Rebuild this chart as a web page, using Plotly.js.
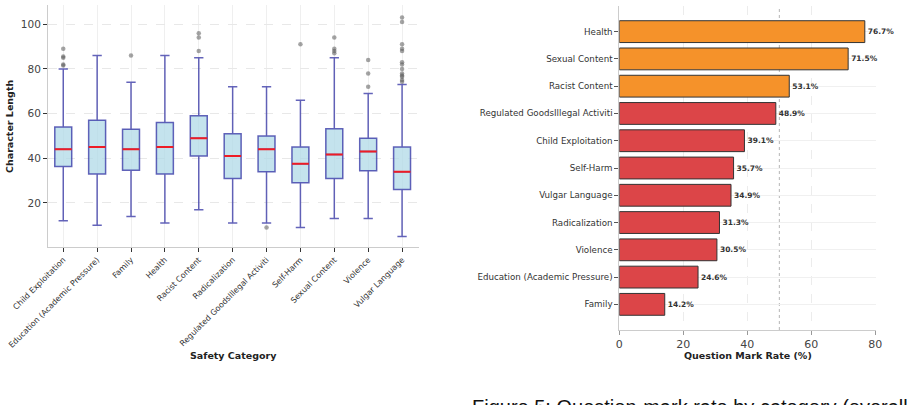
<!DOCTYPE html>
<html>
<head>
<meta charset="utf-8">
<script src="https://cdn.plot.ly/plotly-3.0.1.min.js"></script>
<style>html,body{margin:0;padding:0;background:#fff;}#chart{width:912px;height:405px;}</style>
</head>
<body>
<div id="chart"></div>
<script>
// ---- Left panel: character length by safety category (box plot) ----
const boxCategories = ["Child Exploitation", "Education (Academic Pressure)", "Family", "Health", "Racist Content", "Radicalization", "Regulated GoodsIllegal Activiti", "Self-Harm", "Sexual Content", "Violence", "Vulgar Language"];
const boxLower  = [12, 10, 14, 11, 17, 11, 11, 9, 13, 13, 5];
const boxQ1     = [36.3, 33, 34.7, 33, 41, 31, 34, 29, 31, 34.4, 26];
const boxMedian = [44, 45, 44, 45, 49, 41, 44, 37.6, 41.7, 43, 34];
const boxQ3     = [54, 57, 53, 56, 59, 51, 50, 45, 53.2, 49, 45];
const boxUpper  = [80, 86, 74, 86, 85, 72, 72, 66, 85, 69, 73];
const outlierCategories = [
  "Child Exploitation","Child Exploitation","Child Exploitation","Child Exploitation","Child Exploitation",
  "Family",
  "Racist Content","Racist Content","Racist Content",
  "Regulated GoodsIllegal Activiti",
  "Self-Harm",
  "Sexual Content","Sexual Content","Sexual Content","Sexual Content",
  "Violence","Violence","Violence",
  "Vulgar Language","Vulgar Language","Vulgar Language","Vulgar Language","Vulgar Language","Vulgar Language","Vulgar Language","Vulgar Language","Vulgar Language","Vulgar Language","Vulgar Language","Vulgar Language","Vulgar Language"
];
const outlierValues = [
  89, 85.5, 85, 82, 81.5,
  86,
  96, 94, 88,
  9,
  91,
  94, 89, 88, 87,
  84, 78, 72,
  103, 101, 91, 89, 88, 83, 82, 80, 78, 77, 76.5, 75, 74.2
];
const boxYTicks = [20, 40, 60, 80, 100];

// ---- Right panel: question mark rate by category (bar chart) ----
const barCategories = ["Health", "Sexual Content", "Racist Content", "Regulated GoodsIllegal Activiti", "Child Exploitation", "Self-Harm", "Vulgar Language", "Radicalization", "Violence", "Education (Academic Pressure)", "Family"];
const barRates = [76.7, 71.5, 53.1, 48.9, 39.1, 35.7, 34.9, 31.3, 30.5, 24.6, 14.2];
const rateThreshold = 50;
const barXTicks = [0, 20, 40, 60, 80];

const W = 912, H = 405;
const px = v => v / W;
const py = v => 1 - v / H;
const FONT = "DejaVu Sans";

const traces = [
  {
    type: "box", x: boxCategories, q1: boxQ1, median: boxMedian, q3: boxQ3,
    lowerfence: boxLower, upperfence: boxUpper,
    xaxis: "x", yaxis: "y", width: 0.5, whiskerwidth: 0.55, boxpoints: false,
    fillcolor: "rgba(173,216,230,0.72)",
    line: {color: "rgba(40,40,160,0.72)", width: 1.5},
    hoverinfo: "skip", showlegend: false
  },
  {
    type: "box", x: boxCategories, q1: boxMedian, median: boxMedian, q3: boxMedian,
    lowerfence: boxMedian, upperfence: boxMedian,
    xaxis: "x", yaxis: "y", width: 0.5, whiskerwidth: 0, boxpoints: false,
    fillcolor: "rgba(0,0,0,0)",
    line: {color: "#ee1c25", width: 2},
    hoverinfo: "skip", showlegend: false
  },
  {
    type: "scatter", mode: "markers", x: outlierCategories, y: outlierValues,
    xaxis: "x", yaxis: "y",
    marker: {color: "rgba(90,90,90,0.55)", size: 4.5},
    hoverinfo: "skip", showlegend: false
  },
  {
    type: "bar", orientation: "h", y: barCategories, x: barRates,
    xaxis: "x2", yaxis: "y2",
    marker: {
      color: barRates.map(v => v > rateThreshold ? "#f5922a" : "#dc4548"),
      line: {color: "#333333", width: 1}
    },
    text: barRates.map(v => v.toFixed(1) + "%"),
    textposition: "outside", cliponaxis: false, constraintext: "none",
    textfont: {family: FONT, size: 7.5, color: "#333333", weight: "bold"},
    hoverinfo: "skip", showlegend: false
  }
];

const layout = {
  width: W, height: H,
  margin: {l: 0, r: 0, t: 0, b: 0},
  paper_bgcolor: "#ffffff", plot_bgcolor: "#ffffff",
  font: {family: FONT, color: "#333333"},
  boxmode: "overlay", bargap: 0.2,
  showlegend: false,
  xaxis: {
    domain: [px(48), px(419)], anchor: "y", type: "category",
    categoryorder: "array", categoryarray: boxCategories,
    range: [-0.45, 10.5], automargin: false,
    tickangle: -45, tickfont: {size: 8, color: "#333333"},
    ticks: "outside", ticklen: 4, tickcolor: "#333333", tickwidth: 1,
    showgrid: true, gridcolor: "#efefef", gridwidth: 1,
    showline: true, linecolor: "#cccccc", linewidth: 1, zeroline: false
  },
  yaxis: {
    domain: [py(247), py(5)], anchor: "x",
    range: [0.3, 108.6], automargin: false,
    tickvals: boxYTicks, tickfont: {size: 10.5, color: "#444444"},
    ticks: "outside", ticklen: 4, tickcolor: "#333333",
    showgrid: true, gridcolor: "#e8e8e8", griddash: "dash", gridwidth: 1,
    showline: true, linecolor: "#cccccc", linewidth: 1, zeroline: false
  },
  xaxis2: {
    domain: [px(619.3), px(876)], anchor: "y2",
    range: [0, 80.2], automargin: false,
    tickvals: barXTicks, tickfont: {size: 11, color: "#444444"},
    ticks: "outside", ticklen: 4, tickcolor: "#999999",
    showgrid: true, gridcolor: "#ececec", griddash: "dash", gridwidth: 1,
    showline: true, linecolor: "#cccccc", linewidth: 1, zeroline: false
  },
  yaxis2: {
    domain: [py(330), py(6)], anchor: "x2", type: "category",
    categoryorder: "array", categoryarray: barCategories,
    range: [10.94, -0.94], automargin: false,
    tickfont: {size: 8.7, color: "#333333"},
    ticks: "outside", ticklen: 4, tickcolor: "#555555",
    showgrid: true, gridcolor: "#f0f0f0", gridwidth: 1,
    showline: true, linecolor: "#cccccc", linewidth: 1, zeroline: false
  },
  shapes: [
    {type: "line", xref: "x2", yref: "y2 domain", x0: rateThreshold, x1: rateThreshold, y0: 0, y1: 1,
     line: {color: "#b5b5b5", width: 1, dash: "dot"}, layer: "below"}
  ],
  annotations: [
    {text: "Character Length", xref: "paper", yref: "paper", x: px(10), y: py(127),
     textangle: -90, showarrow: false, xanchor: "center", yanchor: "middle",
     font: {family: FONT, size: 9.5, color: "#222222", weight: "bold"}},
    {text: "Safety Category", xref: "paper", yref: "paper", x: px(233), y: py(355),
     showarrow: false, xanchor: "center", yanchor: "middle",
     font: {family: FONT, size: 9.5, color: "#222222", weight: "bold"}},
    {text: "Question Mark Rate (%)", xref: "paper", yref: "paper", x: px(747.6), y: py(355),
     showarrow: false, xanchor: "center", yanchor: "middle",
     font: {family: FONT, size: 9.5, color: "#222222", weight: "bold"}},
    {text: "Figure 5: Question-mark rate by category (overall", xref: "paper", yref: "paper",
     x: px(470), y: py(407), showarrow: false, xanchor: "left", yanchor: "middle",
     font: {family: "Liberation Sans", size: 20, color: "#111111"}}
  ]
};

Plotly.newPlot("chart", traces, layout, {staticPlot: true, displayModeBar: false});
</script>
</body>
</html>
